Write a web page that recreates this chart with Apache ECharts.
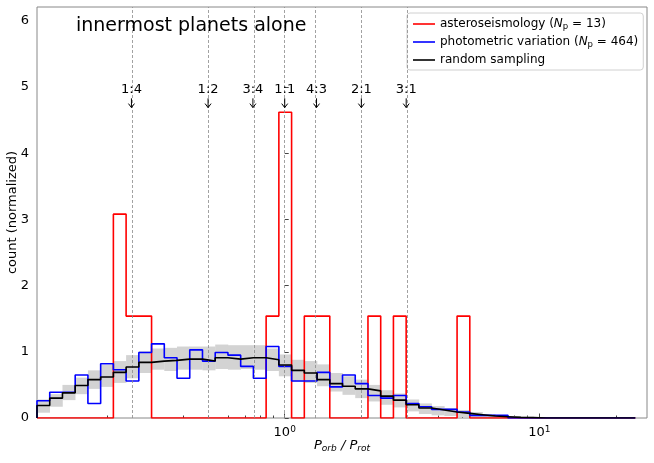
<!DOCTYPE html>
<html>
<head>
<meta charset="utf-8">
<script src="https://cdn.jsdelivr.net/npm/echarts@6/dist/echarts.min.js"></script>
<style>
  html, body { margin: 0; padding: 0; background: #fff; }
  #chart { width: 654px; height: 463px; }
</style>
</head>
<body>
<div id="chart"></div>
<script>
// bins are equal in log10(P_orb/P_rot)
var EDGE_START = -0.973;
var BIN_WIDTH = 0.05;
var X_MIN = -0.973, X_MAX = 1.423;   // log10 units
var Y_MAX = 6.21;

var RED = [0, 0, 0, 0, 0, 0, 3.08, 1.54, 1.54, 0,
  0, 0, 0, 0, 0, 0, 0, 0, 1.54, 4.62,
  0, 1.54, 1.54, 0, 0, 0, 1.54, 0, 1.54, 0,
  0, 0, 0, 1.54, 0, 0, 0, 0, 0, 0,
  0, 0, 0, 0, 0, 0, 0];
var BLUE = [0.26, 0.39, 0.39, 0.65, 0.22, 0.82, 0.73, 0.56, 0.99, 1.12,
  0.91, 0.60, 1.03, 0.86, 0.99, 0.95, 0.78, 0.60, 1.08, 0.78,
  0.56, 0.56, 0.69, 0.47, 0.65, 0.52, 0.34, 0.30, 0.34, 0.22,
  0.17, 0.13, 0.13, 0.09, 0.04, 0.04, 0.04, 0, 0, 0,
  0, 0, 0, 0, 0, 0, 0];
var BLACK = [0.19, 0.30, 0.38, 0.49, 0.58, 0.62, 0.69, 0.77, 0.84, 0.86,
  0.87, 0.89, 0.89, 0.86, 0.91, 0.89, 0.91, 0.91, 0.88, 0.80,
  0.72, 0.68, 0.58, 0.52, 0.48, 0.44, 0.41, 0.33, 0.27, 0.20,
  0.15, 0.12, 0.09, 0.07, 0.05, 0.03, 0.02, 0.01, 0.005, 0,
  0, 0, 0, 0, 0, 0, 0];
var BAND_LO = [0.08, 0.17, 0.27, 0.36, 0.44, 0.47, 0.53, 0.60, 0.68, 0.73,
  0.71, 0.73, 0.73, 0.72, 0.74, 0.73, 0.74, 0.73, 0.71, 0.63,
  0.55, 0.53, 0.48, 0.40, 0.35, 0.30, 0.25, 0.20, 0.16, 0.10,
  0.06, 0.04, 0.03, 0.01, 0, 0, 0, 0, 0, 0,
  0, 0, 0, 0, 0, 0, 0];
var BAND_HI = [0.28, 0.36, 0.50, 0.61, 0.72, 0.80, 0.86, 0.95, 1.01, 1.05,
  1.06, 1.08, 1.08, 1.08, 1.11, 1.10, 1.10, 1.10, 1.05, 0.96,
  0.88, 0.86, 0.81, 0.68, 0.63, 0.58, 0.50, 0.42, 0.37, 0.28,
  0.22, 0.18, 0.15, 0.12, 0.09, 0.06, 0.04, 0.03, 0.02, 0.01,
  0, 0, 0, 0, 0, 0, 0];

var RATIO_LABELS = ['1:4', '1:2', '3:4', '1:1', '4:3', '2:1', '3:1'];
var RATIO_VALUES = [0.25, 0.5, 0.75, 1, 1.3333, 2, 3];
var NOTE_TEXT_Y = 4.96, NOTE_ARROW_TOP = 4.83, NOTE_ARROW_TIP = 4.69;

var MAJOR_TICKS = [1, 10];
var MINOR_TICKS = [0.2, 0.3, 0.4, 0.5, 0.6, 0.7, 0.8, 0.9, 2, 3, 4, 5, 6, 7, 8, 9, 20];
var Y_TICKS = [0, 1, 2, 3, 4, 5, 6];

var FONT = 'DejaVu Sans';

var edges = [];
for (var k = 0; k <= RED.length; k++) edges.push(EDGE_START + k * BIN_WIDTH);

// outline of a step histogram, from baseline to baseline
function stepLine(vals) {
  var pts = [[edges[0], 0]];
  for (var i = 0; i < vals.length; i++) {
    pts.push([edges[i], vals[i]]);
    pts.push([edges[i + 1], vals[i]]);
  }
  pts.push([edges[vals.length], 0]);
  return pts;
}

var bandData = [];
for (var i = 0; i < BAND_HI.length; i++) {
  if (BAND_HI[i] > 0) bandData.push([edges[i], edges[i + 1], BAND_LO[i], BAND_HI[i]]);
}

var noteData = RATIO_VALUES.map(function (r) {
  return [Math.log10(r), NOTE_TEXT_Y, NOTE_ARROW_TOP, NOTE_ARROW_TIP];
});

var legendNames = {
  'asteroseismology': 'asteroseismology ({i|N}{sub|p} = 13)',
  'photometric': 'photometric variation ({i|N}{sub|p} = 464)',
  'random': 'random sampling'
};

var chart = echarts.init(document.getElementById('chart'));

var option = {
  animation: false,
  textStyle: { fontFamily: FONT },
  title: {
    text: 'innermost planets alone',
    left: 76, top: 17, padding: 0,
    textStyle: { fontFamily: FONT, fontSize: 19, fontWeight: 'normal', color: '#000' }
  },
  legend: {
    orient: 'vertical',
    left: 407, top: 13,
    padding: [4, 5, 3, 6],
    icon: 'rect',
    itemGap: 4, itemWidth: 22, itemHeight: 1.6,
    borderColor: '#d0d0d0', borderWidth: 1, borderRadius: 3,
    backgroundColor: 'rgba(255,255,255,0.85)',
    data: ['asteroseismology', 'photometric', 'random'],
    formatter: function (name) { return legendNames[name]; },
    textStyle: {
      fontFamily: FONT, fontSize: 12, color: '#000', lineHeight: 14,
      rich: {
        i: { fontFamily: FONT, fontSize: 12, fontStyle: 'italic', lineHeight: 14 },
        sub: { fontFamily: FONT, fontSize: 8.5, verticalAlign: 'bottom', lineHeight: 14, padding: [4, 0, 0, 0] }
      }
    }
  },
  grid: {
    left: 37, right: 7, top: 7, bottom: 45,
    show: true, borderColor: '#888', borderWidth: 1,
    outerBoundsMode: 'none'
  },
  xAxis: [{
    type: 'value', min: X_MIN, max: X_MAX,
    axisLine: { show: false },
    splitLine: { show: false },
    axisTick: {
      inside: true, length: 4.5, lineStyle: { color: '#444' },
      customValues: MAJOR_TICKS.map(function (v) { return Math.log10(v); })
    },
    axisLabel: {
      margin: 7, color: '#000', fontSize: 13, fontFamily: FONT,
      customValues: MAJOR_TICKS.map(function (v) { return Math.log10(v); }),
      formatter: function (v) { return '10{sup|' + Math.round(v) + '}'; },
      rich: { sup: { fontFamily: FONT, fontSize: 9, verticalAlign: 'top', padding: [0, 0, 6, 0] } }
    },
    name: '{i|P}{sub|orb}{n| / }{i|P}{sub|rot}',
    nameLocation: 'middle', nameGap: 21, nameMoveOverlap: false,
    nameTextStyle: {
      fontFamily: FONT, fontSize: 13, color: '#000',
      rich: {
        i: { fontFamily: FONT, fontSize: 13, fontStyle: 'italic' },
        n: { fontFamily: FONT, fontSize: 13, fontStyle: 'italic' },
        sub: { fontFamily: FONT, fontSize: 9, fontStyle: 'italic', verticalAlign: 'bottom', padding: [5, 0, 0, 0] }
      }
    }
  }, {
    type: 'value', min: X_MIN, max: X_MAX, position: 'bottom',
    axisLine: { show: false },
    splitLine: { show: false },
    axisLabel: { show: false },
    axisTick: {
      inside: true, length: 2.5, lineStyle: { color: '#444' },
      customValues: MINOR_TICKS.map(function (v) { return Math.log10(v); })
    }
  }],
  yAxis: {
    type: 'value', min: 0, max: Y_MAX,
    axisLine: { show: false },
    splitLine: { show: false },
    axisTick: { inside: true, length: 4, lineStyle: { color: '#444' }, customValues: Y_TICKS },
    axisLabel: { margin: 8, color: '#000', fontSize: 13, fontFamily: FONT, customValues: Y_TICKS },
    name: 'count (normalized)',
    nameLocation: 'middle', nameGap: 18, nameMoveOverlap: false,
    nameTextStyle: { fontFamily: FONT, fontSize: 13, color: '#000' }
  },
  series: [
    {
      name: 'band', type: 'custom', xAxisIndex: 0, z: 1, silent: true,
      data: bandData,
      encode: { x: [0, 1], y: [2, 3] },
      renderItem: function (params, api) {
        var a = api.coord([api.value(0), api.value(3)]);
        var b = api.coord([api.value(1), api.value(2)]);
        return {
          type: 'rect',
          shape: { x: a[0], y: a[1], width: b[0] - a[0] + 0.3, height: Math.max(b[1] - a[1], 0.5) },
          style: { fill: '#d3d3d3' }
        };
      },
      markLine: {
        silent: true, symbol: 'none', animation: false,
        label: { show: false },
        lineStyle: { type: [3, 2], color: '#8a8a8a', width: 0.8 },
        data: RATIO_VALUES.map(function (r) { return { xAxis: Math.log10(r) }; })
      }
    },
    {
      name: 'asteroseismology', type: 'line', symbol: 'none', z: 3,
      lineStyle: { color: '#ff0000', width: 1.6 }, itemStyle: { color: '#ff0000' },
      data: stepLine(RED)
    },
    {
      name: 'photometric', type: 'line', symbol: 'none', z: 4,
      lineStyle: { color: '#0000ff', width: 1.6 }, itemStyle: { color: '#0000ff' },
      data: stepLine(BLUE)
    },
    {
      name: 'random', type: 'line', symbol: 'none', z: 5,
      lineStyle: { color: '#000000', width: 1.6 }, itemStyle: { color: '#000000' },
      data: stepLine(BLACK)
    },
    {
      name: 'notes', type: 'custom', z: 6, silent: true, clip: false,
      data: noteData,
      encode: { x: 0, y: [1, 2, 3] },
      renderItem: function (params, api) {
        var x = api.value(0);
        var t = api.coord([x, api.value(1)]);
        var top = api.coord([x, api.value(2)]);
        var tip = api.coord([x, api.value(3)]);
        return {
          type: 'group',
          children: [
            {
              type: 'text', x: t[0], y: t[1],
              style: {
                text: RATIO_LABELS[params.dataIndex], fill: '#000',
                fontSize: 13, fontFamily: FONT, align: 'center', verticalAlign: 'middle'
              }
            },
            {
              type: 'line',
              shape: { x1: top[0], y1: top[1], x2: tip[0], y2: tip[1] },
              style: { stroke: '#000', lineWidth: 1 }
            },
            {
              type: 'polyline',
              shape: { points: [[tip[0] - 3, tip[1] - 4], [tip[0], tip[1]], [tip[0] + 3, tip[1] - 4]] },
              style: { stroke: '#000', lineWidth: 1, fill: null }
            }
          ]
        };
      }
    }
  ]
};

chart.setOption(option);
</script>
</body>
</html>
